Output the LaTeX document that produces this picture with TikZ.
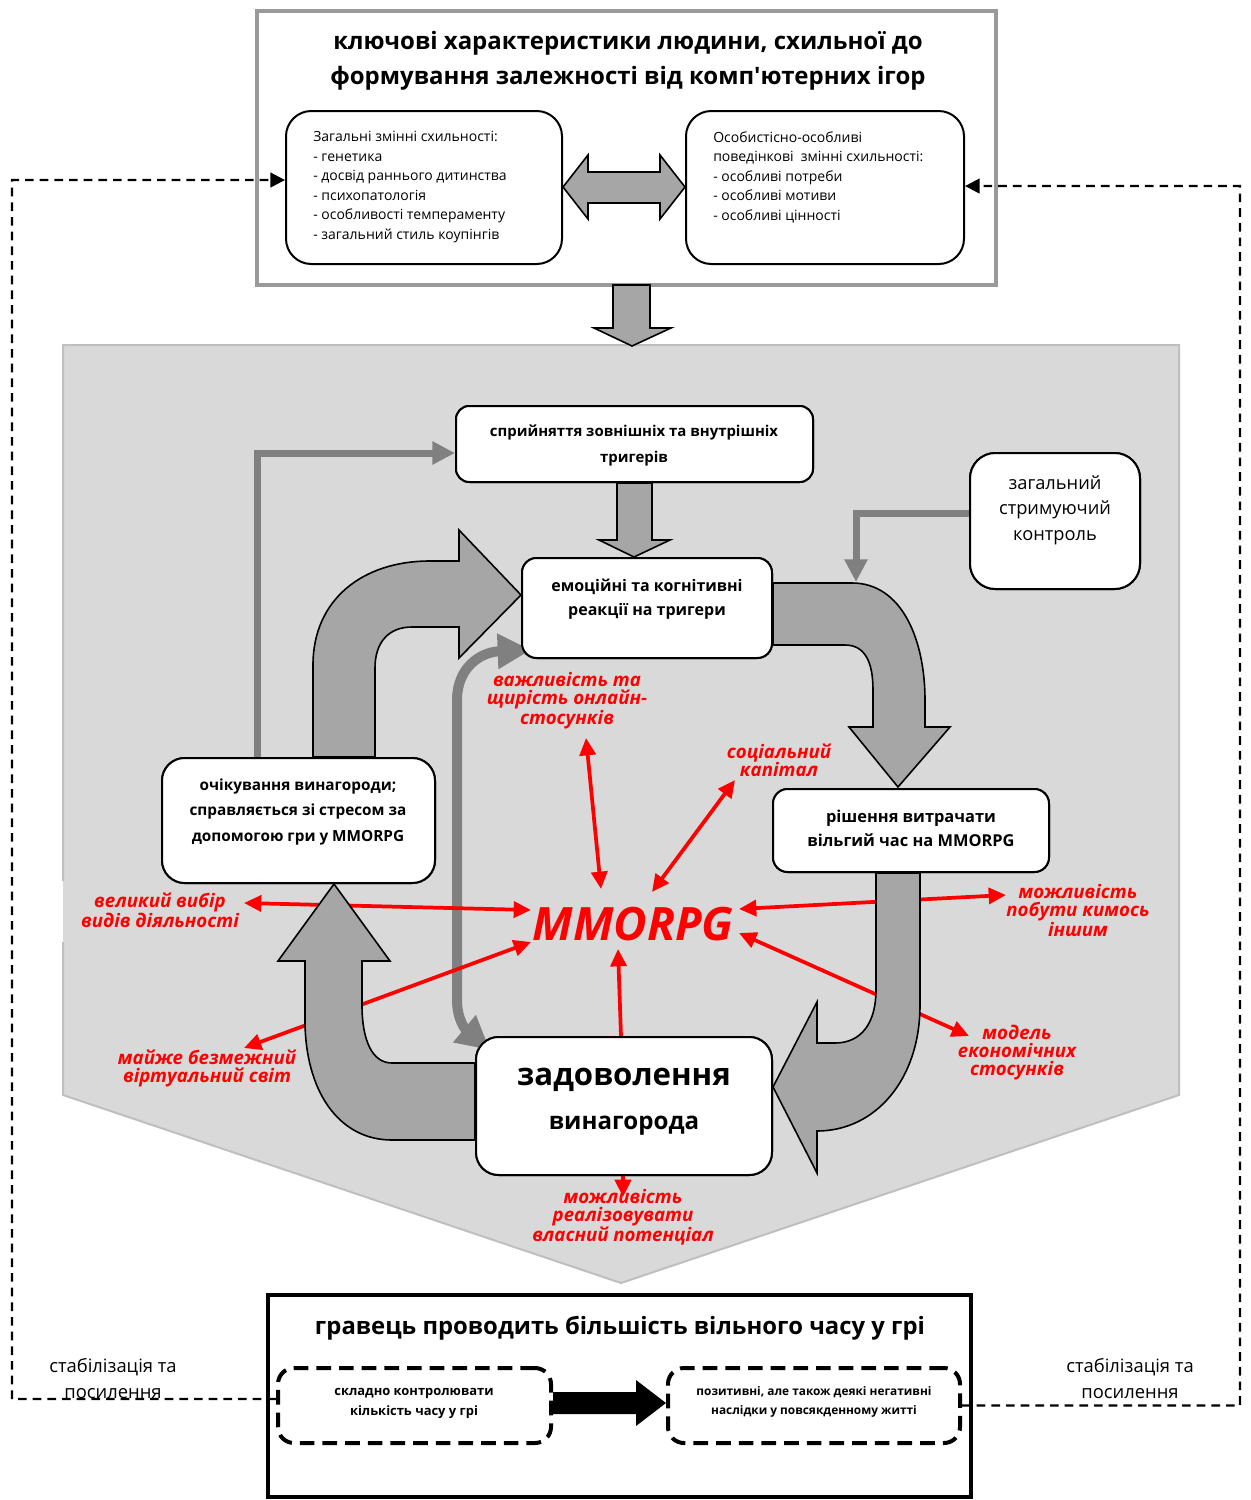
\documentclass[tikz,border=0pt]{standalone}
\usepackage{fontspec}
\setmainfont{Open Sans}[Ligatures=TeXOff]
\usetikzlibrary{arrows.meta,fit}
\definecolor{bgpent}{HTML}{D9D9D9}
\definecolor{pentline}{HTML}{BFBFBF}
\definecolor{blockfill}{HTML}{A6A6A6}
\definecolor{thingray}{HTML}{808080}
\definecolor{topline}{HTML}{9A9A9A}
\definecolor{myred}{HTML}{FF0000}
\tikzset{
  blk/.style={fill=blockfill, draw=black, line width=1.2pt, line join=miter},
  rbox/.style={draw=black, line width=1.5pt, fill=white, inner sep=0pt},
  garrow/.style={draw=thingray, line width=5.25pt, -{Triangle[length=17pt,width=16.5pt]}},
  redarr/.style={draw=myred, line width=2.8pt, {Triangle[length=13pt,width=12pt]}-{Triangle[length=13pt,width=12pt]}},
  redone/.style={draw=myred, line width=2.8pt, -{Triangle[length=13pt,width=12pt]}},
  redlab/.style={text=myred, align=center, inner sep=0pt, font=\fontsize{14pt}{13.5pt}\selectfont\bfseries\itshape},
  fb/.style={draw=black, line width=1.8pt, dash pattern=on 6.5pt off 4.5pt},
  fbarr/.style={fb, -{Triangle[length=11pt,width=11pt]}},
  dbox/.style={draw=black, line width=3pt, dash pattern=on 11pt off 6pt, rounded corners=12pt, inner sep=0pt},
  txt/.style={align=center, inner sep=0pt}
}
\begin{document}
\begin{tikzpicture}[x=0.75pt,y=-0.75pt]
\useasboundingbox (0,0) rectangle (1251,1500);
\fill[white] (0,0) rectangle (1251,1500);

% background pentagon
\fill[bgpent] (63,345) -- (1179,345) -- (1179,1095) -- (621,1283) -- (63,1095) -- cycle;
\draw[pentline, line width=1.5pt] (63,881) -- (63,345) -- (1179,345) -- (1179,1095) -- (621,1283) -- (63,1095) -- (63,942);

% top box
\node[fit={(257,11) (996,285)}, draw=topline, line width=2.3pt, fill=white, inner sep=0pt] (T) {};
\node[txt, font=\fontsize{18pt}{26pt}\selectfont\bfseries] (Tt) at (628,61) {ключові характеристики людини, схильної до\\формування залежності від комп'ютерних ігор};
\node[rbox, rounded corners=19pt, fit={(286,111) (562,264)}] (L) {};
\node[rbox, rounded corners=19pt, fit={(686,111) (964,264)}] (R) {};
\node[anchor=west, align=left, inner sep=0pt, font=\fontsize{10.5pt}{14.6pt}\selectfont] (Ltx) at (313,187) {Загальні змінні схильності:\\- генетика\\- досвід раннього дитинства\\- психопатологія\\- особливості темпераменту\\- загальний стиль коупінгів};
\node[anchor=west, align=left, inner sep=0pt, font=\fontsize{10.5pt}{14.6pt}\selectfont] (Rtx) at (713,177) {Особистісно-особливі\\поведінкові\ \ змінні схильності:\\- особливі потреби\\- особливі мотиви\\- особливі цінності};
% double arrow between
\draw[blk] (L.east |- 0,187) -- (588,155) -- (588,172) -- (660,172) -- (660,155) -- (R.west |- 0,187) -- (660,219) -- (660,203) -- (588,203) -- (588,219) -- cycle;

% down arrow from top box
\draw[blk] (613,285) -- (650,285) -- (650,328) -- (671,328) -- (632,346) -- (594,328) -- (613,328) -- cycle;

% coordinates
\coordinate (gx) at (257,0);
\coordinate (cx) at (856,582);

% boxes (for anchors)
\node[rbox, rounded corners=10pt, fit={(456,406) (813,482)}] (S) {};
\node[rbox, rounded corners=11pt, fit={(522,558) (772,658)}] (Em) {};
\node[rbox, rounded corners=19pt, fit={(970,453) (1140,589)}] (C) {};
\node[rbox, rounded corners=11pt, fit={(773,789) (1049,872)}] (D) {};
\node[rbox, rounded corners=17pt, fit={(476,1037) (772,1175)}] (Rw) {};
\node[rbox, rounded corners=17pt, fit={(162,758) (435,883)}] (E) {};

% thin gray arrows
\draw[garrow] (E.north -| gx) |- ([yshift=-6.75pt]S.west);
\draw[garrow] ([yshift=6pt]C.west) -| (cx);

% thick gray double line
\draw[draw=thingray, line width=7.5pt, {Triangle[length=25pt,width=25pt]}-{Triangle[length=25pt,width=25pt]}]
  (490,1050) .. controls (466,1030) and (457,1020) .. (457,1000) -- (457,700) .. controls (457,668) and (480,652) .. (531,650);

% red arrows
\coordinate (ra1) at (586,738); \coordinate (ra2) at (601,889);
\coordinate (rb1) at (735,780); \coordinate (rb2) at (652,892);
\coordinate (rc1) at (244,903); \coordinate (rc2) at (531,910);
\coordinate (rd1) at (244,1048); \coordinate (rd2) at (531,942);
\coordinate (re2) at (618,949);
\coordinate (rf1) at (739,909); \coordinate (rf2) at (1006,895);
\coordinate (rg1) at (739,933); \coordinate (rg2) at (969,1036);
\coordinate (rh2) at (623,1197);
\draw[redarr] (ra1) -- (ra2);
\draw[redarr] (rb1) -- (rb2);
\draw[redarr] (rc1) -- (rc2);
\draw[redarr] (rd1) -- (rd2);
\draw[redone] (Rw.north -| 621,0) -- (re2);
\draw[redarr] (rf1) -- (rf2);
\draw[redarr] (rg1) -- (rg2);
\draw[redone] (Rw.south -| rh2) -- (rh2);

% big block arrows
\draw[blk] (Em.east |- 0,583) -- (852,583) .. controls (902,583) and (925,640) .. (925,700) -- (925,727) -- (950,727) -- (898,787) -- (849,727) -- (873,727) -- (873,690) .. controls (873,662) and (865,645) .. (845,645) -- (Em.east |- 0,645) -- cycle;
\draw[blk] (D.south -| 920,0) -- (920,1005) .. controls (920,1080) and (875,1131) .. (817,1131) -- (817,1173) -- (Rw.east |- 0,1087) -- (817,1002) -- (817,1043) -- (835,1043) .. controls (862,1043) and (876,1022) .. (876,990) -- (D.south -| 876,0) -- cycle;
\draw[blk] (Rw.west |- 0,1063) -- (392,1063) .. controls (372,1063) and (362,1040) .. (362,1005) -- (362,961) -- (390,961) -- (E.south -| 334,0) -- (278,961) -- (305,961) -- (305,1020) .. controls (305,1090) and (338,1140) .. (392,1140) -- (Rw.west |- 0,1140) -- cycle;
\draw[blk] (E.north -| 313,0) -- (313,665) .. controls (313,600) and (362,561) .. (430,561) -- (459,561) -- (459,530) -- (Em.west |- 0,595) -- (459,658) -- (459,627) -- (412,627) .. controls (388,627) and (375,643) .. (375,668) -- (E.north -| 375,0) -- cycle;
% sprijniattia to emotion
\draw[blk] (S.south -| 617,0) -- (S.south -| 652,0) -- (652,540) -- (670,540) -- (Em.north -| 634,0) -- (599,540) -- (617,540) -- cycle;

% boxes on top
\node[rbox, rounded corners=10pt, fit={(456,406) (813,482)}] (S2) {};
\node[rbox, rounded corners=11pt, fit={(522,558) (772,658)}] (Em2) {};
\node[rbox, rounded corners=19pt, fit={(970,453) (1140,589)}] (C2) {};
\node[rbox, rounded corners=11pt, fit={(773,789) (1049,872)}] (D2) {};
\node[rbox, rounded corners=17pt, fit={(476,1037) (772,1175)}] (Rw2) {};
\node[rbox, rounded corners=17pt, fit={(162,758) (435,883)}] (E2) {};

% box texts
\node[txt, font=\fontsize{11.2pt}{19.5pt}\selectfont\bfseries] (St) at (634,445) {сприйняття зовнішніх та внутрішніх\\тригерів};
\node[txt, font=\fontsize{12pt}{18pt}\selectfont\bfseries] (Emt) at (647,599) {емоційні та когнітивні\\реакції на тригери};
\node[txt, font=\fontsize{13.7pt}{19.2pt}\selectfont] (Ct) at (1055,510) {загальний\\стримуючий\\контроль};
\node[txt, font=\fontsize{11.5pt}{19pt}\selectfont\bfseries] (Et) at (298,812) {очікування винагороди;\\справляється зі стресом за\\допомогою гри у MMORPG};
\node[txt, font=\fontsize{12.3pt}{18pt}\selectfont\bfseries] (Dt) at (911,828) {рішення витрачати\\вільгий час на MMORPG};
\node[txt, font=\fontsize{23.4pt}{27pt}\selectfont\bfseries] (Rt1) at (624,1080) {задоволення};
\node[txt, font=\fontsize{18.1pt}{21pt}\selectfont\bfseries] (Rt2) at (624,1126) {винагорода};

% MMORPG
\node[txt, text=myred, font=\fontsize{34.5pt}{40pt}\selectfont\bfseries\itshape] (M) at (633,924) {MMORPG};

% red labels
\node[redlab] (la) at (567,701) {важливість та\\щирість онлайн-\\стосунків};
\node[redlab] (lb) at (779,760) {соціальний\\капітал};
\node[redlab] (lc) at (160,910) {великий вибір\\видів діяльності};
\node[redlab] (ld) at (207,1068) {майже безмежний\\віртуальний світ};
\node[redlab] (lf) at (1078,910) {можливість\\побути кимось\\іншим};
\node[redlab] (lg) at (1017,1053) {модель\\економічних\\стосунків};
\node[redlab] (lh) at (623,1217) {можливість\\реалізовувати\\власний потенціал};

% bottom box
\node[fit={(268,1295) (971,1497)}, draw=black, line width=3.5pt, fill=white, inner sep=0pt] (B) {};
\node[txt, font=\fontsize{17.9pt}{20pt}\selectfont\bfseries] (Bt) at (620,1328) {гравець проводить більшість вільного часу у грі};
\node[dbox, fit={(278,1368) (551,1443)}] (Lb) {};
\node[dbox, fit={(668,1368) (960,1443)}] (Rb) {};
\node[txt, font=\fontsize{9.7pt}{15pt}\selectfont\bfseries] (Lbt) at (414,1403) {складно контролювати\\кількість часу у грі};
\node[txt, font=\fontsize{8.9pt}{14pt}\selectfont\bfseries] (Rbt) at (814,1402) {позитивні, але також деякі негативні\\наслідки у повсякденному житті};
\fill[black] (Lb.east |- 0,1392) -- (636,1392) -- (636,1380) -- (Rb.west |- 0,1403) -- (636,1426) -- (636,1414) -- (Lb.east |- 0,1414) -- cycle;

% feedback dashed lines
\draw[fbarr] ([yshift=4.9pt]Lb.west) -- (12,1399) -- (12,180) -- ([yshift=5.6pt]L.west);
\draw[fbarr] (Rb.east) -- (1240,1405.5) -- (1240,186) -- ([yshift=1.1pt]R.east);
\node[txt, font=\fontsize{13.8pt}{19.5pt}\selectfont] (fl) at (113,1379) {стабілізація та\\посилення};
\node[txt, font=\fontsize{13.8pt}{19.5pt}\selectfont] (fr) at (1130,1379) {стабілізація та\\посилення};
\end{tikzpicture}
\end{document}
